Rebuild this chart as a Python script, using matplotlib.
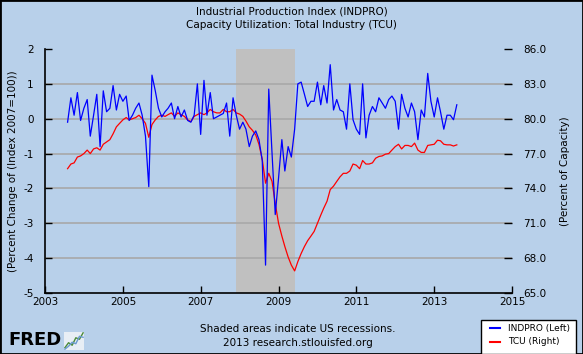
import matplotlib
matplotlib.use("Agg")
import matplotlib.pyplot as plt
import pandas as pd
from matplotlib.patches import Rectangle

# monthly data, Aug 2003 - Aug 2013
months = pd.date_range("2003-08-01", periods=121, freq="MS")

indpro = [-0.1, 0.6, 0.1, 0.75, -0.05, 0.3, 0.55, -0.5, 0.1, 0.7,
          -0.8, 0.8, 0.2, 0.3, 0.95, 0.25, 0.7, 0.5, 0.65, -0.05,
          0.1, 0.3, 0.45, 0.1, -0.5, -1.95, 1.25, 0.8, 0.3, 0.05,
          0.2, 0.3, 0.45, 0.0, 0.35, 0.05, 0.25, -0.05, -0.1, 0.1,
          1.0, -0.45, 1.1, 0.1, 0.75, 0.0, 0.05, 0.1, 0.15, 0.45,
          -0.5, 0.6, 0.1, -0.3, -0.1, -0.3, -0.8, -0.5, -0.35, -0.6,
          -1.2, -4.2, 0.85, -1.0, -2.75, -1.7, -0.6, -1.5, -0.8, -1.1,
          -0.3, 1.0, 1.05, 0.7, 0.35, 0.5, 0.5, 1.05, 0.4, 0.95,
          0.45, 1.55, 0.25, 0.55, 0.25, 0.2, -0.3, 1.0, -0.03, -0.3,
          -0.45, 1.0, -0.55, 0.1, 0.35, 0.2, 0.6, 0.45, 0.3, 0.55,
          0.65, 0.5, -0.3, 0.7, 0.3, 0.05, 0.45, 0.2, -0.6, 0.25,
          0.05, 1.3, 0.5, 0.05, 0.6, 0.2, -0.3, 0.1, 0.1, -0.03,
          0.4]

tcu = [75.7, 76.1, 76.2, 76.7, 76.8, 77.0, 77.3, 77.0, 77.4, 77.5,
       77.3, 77.8, 78.0, 78.2, 78.7, 79.3, 79.6, 79.9, 80.1, 79.9,
       80.0, 80.1, 80.3, 80.0, 79.6, 78.4, 79.5, 79.9, 80.2, 80.3,
       80.2, 80.35, 80.5, 80.2, 80.5, 80.35, 80.2, 79.9, 79.75, 80.2,
       80.35, 80.5, 80.35, 80.5, 80.8, 80.6, 80.5, 80.5, 80.8, 80.6,
       80.6, 80.8, 80.5, 80.4, 80.2, 79.8, 79.3, 79.0, 78.6, 77.8,
       76.5, 74.45, 75.3, 74.6, 72.7, 71.0, 69.9, 69.0, 68.1, 67.4,
       66.9, 67.7, 68.4, 69.0, 69.5, 69.9, 70.3, 71.0, 71.7, 72.3,
       72.9, 73.9, 74.2, 74.6, 75.0, 75.3, 75.3, 75.5, 76.1, 76.0,
       75.7, 76.4, 76.1, 76.1, 76.2, 76.6, 76.75, 76.8, 76.95, 77.0,
       77.3, 77.6, 77.8, 77.4, 77.7, 77.7, 77.6, 77.9, 77.3, 77.1,
       77.1, 77.7, 77.75, 77.8, 78.15, 78.1, 77.8, 77.75, 77.75, 77.65,
       77.75]

recession = ("2007-12-01", "2009-06-01")
left_ticks = [-5, -4, -3, -2, -1, 0, 1, 2]
right_ticks = [65, 68, 71, 74, 77, 80, 83, 86]
year_ticks = [2003, 2005, 2007, 2009, 2011, 2013, 2015]

bg = "#b8d0ea"
W, H = 583, 354
fig = plt.figure(figsize=(W / 100, H / 100), dpi=100, facecolor=bg)
fig.patches.append(Rectangle((0, 0), 1, 1, transform=fig.transFigure,
                             fill=False, ec="black", lw=2))

ax = fig.add_axes([45 / W, (H - 293) / H, (512 - 45) / W, (293 - 49) / H])
ax2 = ax.twinx()

# background (shading + grid) lives on the lower axes
ax2.set_facecolor("white")
ax2.axvspan(pd.Timestamp(recession[0]), pd.Timestamp(recession[1]),
            color="#c0c0c0", lw=0, zorder=1)
for t in right_ticks[1:-1]:
    ax2.axhline(t, color="#a8a8a8", lw=1.2, zorder=1.5)
ax2.plot(months, tcu, color="#ff0000", lw=0.9, zorder=3)

ax.plot(months, indpro, color="#0000ff", lw=0.9, zorder=3)
ax.set_zorder(ax2.get_zorder() + 1)
ax.patch.set_visible(False)

ax.set_xlim(pd.Timestamp("2003-01-01"), pd.Timestamp("2015-01-01"))
ax.set_ylim(-5, 2)
ax2.set_ylim(65, 86)
ax.set_yticks(left_ticks)
ax.set_yticklabels([str(t) for t in left_ticks])
ax2.set_yticks(right_ticks)
ax2.set_yticklabels(["%.1f" % t for t in right_ticks])
ax.set_xticks([pd.Timestamp("%d-01-01" % y) for y in year_ticks])
ax.set_xticklabels([str(y) for y in year_ticks])

for a in (ax, ax2):
    for s in ("top", "right"):
        a.spines[s].set_visible(False)
    a.spines["left"].set_linewidth(1.2)
    a.spines["bottom"].set_linewidth(1.2)
ax2.spines["left"].set_visible(False)
ax2.spines["bottom"].set_visible(False)

ax.tick_params(axis="both", direction="in", length=5, width=1,
               labelsize=7.5, pad=3, colors="black")
ax.tick_params(axis="y", pad=8)
ax2.tick_params(axis="y", direction="in", length=6, width=1,
                labelsize=7.5, pad=8)

ax.set_ylabel("(Percent Change of (Index 2007=100))", fontsize=7.5, labelpad=4)
ax2.set_ylabel("(Percent of Capacity)", fontsize=7.5, labelpad=10)

fig.text(0.5, 1 - 12 / H, "Industrial Production Index (INDPRO)",
         ha="center", va="center", fontsize=7.5)
fig.text(0.5, 1 - 25 / H, "Capacity Utilization: Total Industry (TCU)",
         ha="center", va="center", fontsize=7.5)
fig.text(298 / W, 1 - 329 / H, "Shaded areas indicate US recessions.",
         ha="center", va="center", fontsize=7.5)
fig.text(298 / W, 1 - 343 / H, "2013 research.stlouisfed.org",
         ha="center", va="center", fontsize=7.5)

# FRED logo
fig.text(8 / W, 1 - 340 / H, "FRED", ha="left", va="center",
         fontsize=13, fontweight="bold", color="black")
logo = fig.add_axes([64 / W, (H - 350) / H, 20 / W, 18 / H])
logo.set_facecolor("#e8eef5")
logo.plot([0, 1, 2, 3, 4, 5], [0.5, 1.5, 1.0, 2.5, 2.2, 3.5], color="#4a8a3a", lw=1)
logo.plot([0, 1, 2, 3, 4, 5], [0.2, 0.8, 1.6, 1.3, 2.8, 2.6], color="#6a9ad0", lw=1)
logo.set_xticks([])
logo.set_yticks([])
for s in logo.spines.values():
    s.set_visible(False)

# legend box
fig.patches.append(Rectangle((481 / W, 1 - 354 / H), 95 / W, 34 / H,
                             transform=fig.transFigure, fc="white",
                             ec="black", lw=1))
fig.lines.append(plt.Line2D([490 / W, 500 / W], [1 - 328 / H] * 2,
                            transform=fig.transFigure, color="#0000ff", lw=1.5))
fig.lines.append(plt.Line2D([490 / W, 500 / W], [1 - 342 / H] * 2,
                            transform=fig.transFigure, color="#ff0000", lw=1.5))
fig.text(508 / W, 1 - 328 / H, "INDPRO (Left)", ha="left", va="center", fontsize=6.5)
fig.text(508 / W, 1 - 342 / H, "TCU (Right)", ha="left", va="center", fontsize=6.5)

fig.savefig("out.png", dpi=100, facecolor=bg)
